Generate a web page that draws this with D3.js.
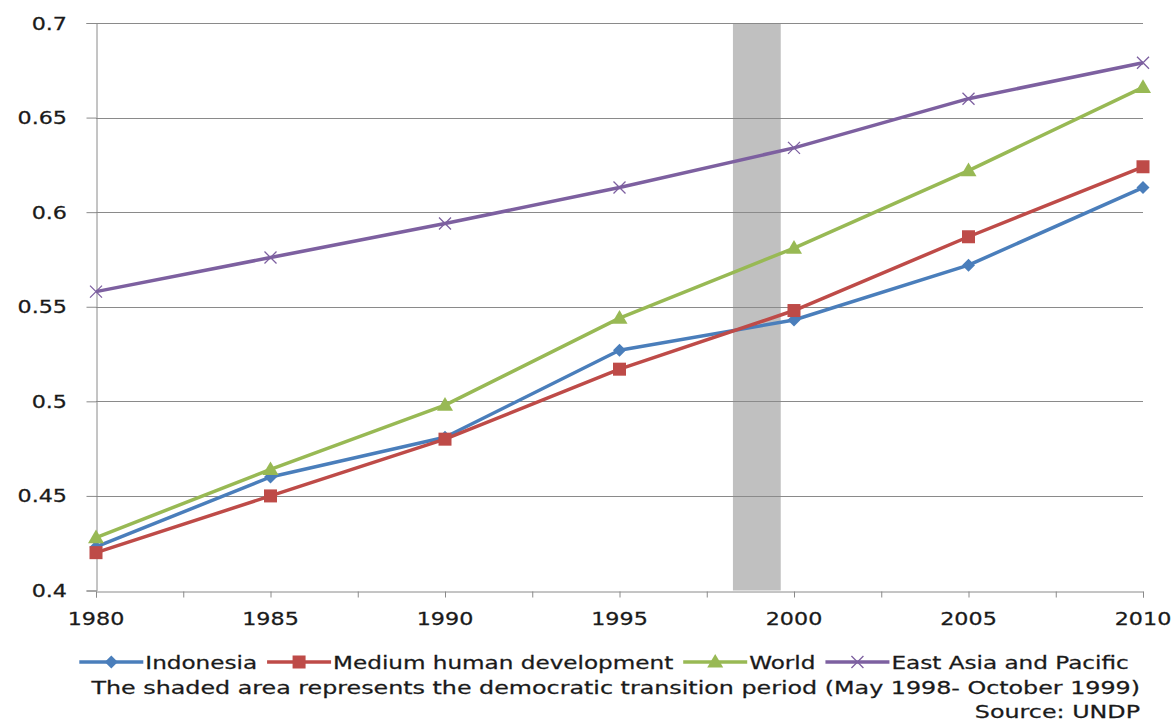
<!DOCTYPE html>
<html>
<head>
<meta charset="utf-8">
<script src="https://cdn.jsdelivr.net/npm/d3@7"></script>
<style>
  html, body { margin: 0; padding: 0; background: #fff; }
  svg { display: block; }
  text { font-family: "DejaVu Sans", Verdana, sans-serif; fill: #1a1a1a; }
</style>
</head>
<body>
<svg id="chart" width="1176" height="722"></svg>
<script>
// Human Development Index, 1980–2010
const years = [1980, 1985, 1990, 1995, 2000, 2005, 2010];
const indonesia = [0.423, 0.460, 0.481, 0.527, 0.543, 0.572, 0.613];
const mediumHD  = [0.420, 0.450, 0.480, 0.517, 0.548, 0.587, 0.624];
const world     = [0.428, 0.464, 0.498, 0.544, 0.581, 0.622, 0.666];
const eastAsia  = [0.558, 0.576, 0.594, 0.613, 0.634, 0.660, 0.679];
const seriesNames = ["Indonesia", "Medium human development", "World", "East Asia and Pacific"];
const yTicks = [0.4, 0.45, 0.5, 0.55, 0.6, 0.65, 0.7];
const yTickLabels = ["0.4", "0.45", "0.5", "0.55", "0.6", "0.65", "0.7"];
const xTicks = [1980, 1982.5, 1985, 1987.5, 1990, 1992.5, 1995, 1997.5, 2000, 2002.5, 2005, 2007.5, 2010];
// Democratic transition period: May 1998 – October 1999
const transition = [1998.25, 1999.62];
const note = "The shaded area represents the democratic transition period (May 1998- October 1999)";
const source = "Source: UNDP";

const colors = ["#4a7ebb", "#be4b48", "#98b954", "#7d60a0"];
const markers = ["diamond", "square", "triangle", "cross"];
const series = [indonesia, mediumHD, world, eastAsia].map((vals, i) => ({
  name: seriesNames[i], color: colors[i], marker: markers[i],
  points: years.map((y, j) => ({ year: y, value: vals[j] }))
}));

const svg = d3.select("#chart");

const x = d3.scaleLinear().domain([1980, 2010]).range([96, 1143]);
const y = d3.scaleLinear().domain([0.4, 0.7]).range([590.5, 23]);

// Text drawn with a horizontal stretch
function stretchedText(sel, tx, ty, str, size, sx, anchor) {
  return sel.append("text")
    .attr("transform", `translate(${tx},${ty}) scale(${sx},1)`)
    .attr("text-anchor", anchor || "start")
    .style("font-size", size + "px")
    .style("stroke", "#1a1a1a")
    .style("stroke-width", 0.25)
    .text(str);
}

// Shaded transition band
svg.append("rect")
  .attr("x", x(transition[0]))
  .attr("y", y(0.7))
  .attr("width", x(transition[1]) - x(transition[0]))
  .attr("height", y(0.4) - y(0.7))
  .attr("fill", "#c0c0c0");

// Horizontal gridlines
svg.append("g").selectAll("line").data(yTicks.slice(1)).join("line")
  .attr("x1", x(1980)).attr("x2", x(2010))
  .attr("y1", d => Math.round(y(d)) + 0.5).attr("y2", d => Math.round(y(d)) + 0.5)
  .attr("stroke", "#8a8a8a").attr("stroke-width", 1);

// Y axis
const yAxis = svg.append("g")
  .attr("transform", `translate(${Math.round(x(1980)) + 0.5},0)`)
  .call(d3.axisLeft(y).tickValues(yTicks).tickSize(10).tickFormat(""));
yAxis.select(".domain").attr("stroke", "#8a8a8a");
yAxis.selectAll(".tick line").attr("stroke", "#8a8a8a");
yTicks.forEach((t, i) => {
  stretchedText(svg, 67, y(t) + 6.5, yTickLabels[i], 17.5, 1.27, "end");
});

// X axis
const xAxis = svg.append("g")
  .attr("transform", `translate(0,${Math.round(y(0.4)) + 0.5})`)
  .call(d3.axisBottom(x).tickValues(xTicks).tickSize(6).tickFormat(""));
xAxis.select(".domain").attr("stroke", "#8a8a8a");
xAxis.selectAll(".tick line").attr("stroke", "#8a8a8a");
years.forEach(yr => {
  stretchedText(svg, x(yr), 625, String(yr), 17.5, 1.27, "middle");
});

// Marker shapes
function drawMarker(g, kind, cx, cy, color) {
  if (kind === "diamond") {
    const r = 6.5;
    g.append("path").attr("d", `M${cx},${cy - r}L${cx + r},${cy}L${cx},${cy + r}L${cx - r},${cy}Z`).attr("fill", color);
  } else if (kind === "square") {
    const s = 13;
    g.append("rect").attr("x", cx - s / 2).attr("y", cy - s / 2).attr("width", s).attr("height", s).attr("fill", color);
  } else if (kind === "triangle") {
    const r = 8;
    g.append("path").attr("d", `M${cx},${cy - r}L${cx + r},${cy + r * 0.7}L${cx - r},${cy + r * 0.7}Z`).attr("fill", color);
  } else {
    const r = 6;
    g.append("path").attr("d", `M${cx - r},${cy - r}L${cx + r},${cy + r}M${cx - r},${cy + r}L${cx + r},${cy - r}`)
      .attr("stroke", color).attr("stroke-width", 1.3).attr("fill", "none");
  }
}

// Series lines and markers
const line = d3.line().x(d => x(d.year)).y(d => y(d.value));
series.forEach(s => {
  const g = svg.append("g");
  g.append("path").datum(s.points)
    .attr("d", line)
    .attr("fill", "none")
    .attr("stroke", s.color)
    .attr("stroke-width", 3.5)
    .attr("stroke-linejoin", "round");
  s.points.forEach(p => drawMarker(g, s.marker, x(p.year), y(p.value), s.color));
});

// Legend
const legend = svg.append("g");
const legendY = 662;
const items = series.map(s => {
  const item = legend.append("g");
  item.append("line").attr("x1", 0).attr("x2", 64).attr("y1", 0).attr("y2", 0)
    .attr("stroke", s.color).attr("stroke-width", 3.5);
  drawMarker(item, s.marker, 32, 0, s.color);
  const t = stretchedText(item, 66, 6.5, s.name, 17, 1.36, "start");
  const w = 66 + t.node().getComputedTextLength() * 1.36;
  return { item, w };
});
const gap = 10;
const total = d3.sum(items, d => d.w) + gap * (items.length - 1);
let lx = 604 - total / 2;
items.forEach(d => {
  d.item.attr("transform", `translate(${lx},${legendY})`);
  lx += d.w + gap;
});

// Footnotes
stretchedText(svg, 1140, 694, note, 17.5, 1.36, "end");
stretchedText(svg, 1140, 718, source, 17.5, 1.36, "end");
</script>
</body>
</html>
